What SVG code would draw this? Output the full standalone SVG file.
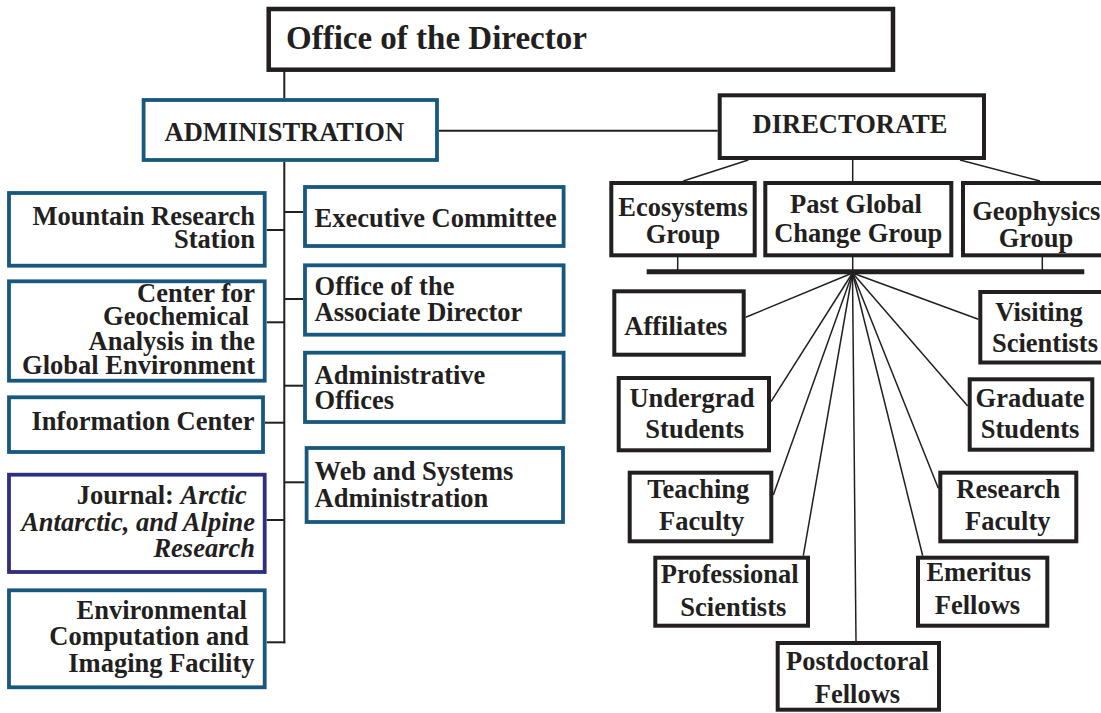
<svg xmlns="http://www.w3.org/2000/svg" width="1101" height="713" viewBox="0 0 1101 713">
<style>
.bg{fill:#ffffff}
.kb{fill:#fff;stroke:#231f20;stroke-width:4}
.bb{fill:#fff;stroke:#18587f;stroke-width:3.8}
.pb{fill:#fff;stroke:#2e2f7f;stroke-width:3.8}
.t{font-family:"Liberation Serif","Times New Roman",serif;font-weight:bold;font-size:26.5px;fill:#231f20}
.e{text-anchor:end}
.m{text-anchor:middle}
.i{font-style:italic}
.c{stroke:#231f20;stroke-width:2;fill:none}
.f{stroke:#231f20;stroke-width:1.5;fill:none}
</style>
<rect class="bg" x="0" y="0" width="1101" height="713"/>
<g id="connectors">
<line class="c" x1="284.3" y1="71" x2="284.3" y2="98"/>
<line class="c" x1="284.3" y1="162" x2="284.3" y2="643.3"/>
<line class="c" x1="266.7" y1="230" x2="284.3" y2="230"/>
<line class="c" x1="284.3" y1="212" x2="303" y2="212"/>
<line class="c" x1="266.7" y1="322.3" x2="284.3" y2="322.3"/>
<line class="c" x1="284.3" y1="299" x2="303" y2="299"/>
<line class="c" x1="284.3" y1="385.7" x2="303" y2="385.7"/>
<line class="c" x1="265" y1="422.7" x2="284.3" y2="422.7"/>
<line class="c" x1="284.3" y1="482.3" x2="304.6" y2="482.3"/>
<line class="c" x1="266.7" y1="520" x2="284.3" y2="520"/>
<line class="c" x1="266.7" y1="642.3" x2="285.3" y2="642.3"/>
<line class="c" x1="439" y1="130.7" x2="717.7" y2="130.7"/>
<line class="f" x1="748.3" y1="160" x2="683.3" y2="181"/>
<line class="f" x1="852.7" y1="160" x2="852.7" y2="181"/>
<line class="f" x1="960" y1="160" x2="1040" y2="181"/>
<line class="f" x1="677.7" y1="257" x2="677.7" y2="270"/>
<line class="f" x1="852.7" y1="257" x2="852.7" y2="270"/>
<line class="f" x1="1042.3" y1="257" x2="1042.3" y2="270"/>
<line stroke="#231f20" stroke-width="5" x1="646.7" y1="271.7" x2="1084.3" y2="271.7"/>
<line class="f" x1="852.5" y1="273" x2="745.7" y2="317.3"/>
<line class="f" x1="852.5" y1="273" x2="978.3" y2="319.3"/>
<line class="f" x1="852.5" y1="273" x2="771" y2="401.7"/>
<line class="f" x1="852.5" y1="273" x2="967.7" y2="406"/>
<line class="f" x1="852.5" y1="273" x2="773.3" y2="495"/>
<line class="f" x1="852.5" y1="273" x2="938.3" y2="488.3"/>
<line class="f" x1="852.5" y1="273" x2="803.3" y2="555.7"/>
<line class="f" x1="852.5" y1="273" x2="922.7" y2="555.7"/>
<line class="f" x1="852.5" y1="273" x2="856" y2="641"/>
</g>
<g id="office-director">
<rect class="kb" x="268.7" y="9" width="624.3" height="60.7" style="stroke-width:4.5"/>
<text class="t" x="286" y="49" style="font-size:33px">Office of the Director</text>
</g>
<g id="administration">
<rect class="bb" x="143.6" y="100" width="293.4" height="60"/>
<text class="t" x="164.6" y="141">ADMINISTRATION</text>
</g>
<g id="mountain-research">
<rect class="bb" x="9" y="193" width="255.7" height="72.7"/>
<text class="t e" x="255" y="225">Mountain Research</text>
<text class="t e" x="255" y="248">Station</text>
</g>
<g id="center-geochemical">
<rect class="bb" x="9" y="281.3" width="255.7" height="99.4"/>
<text class="t e" x="255" y="301.7">Center for</text>
<text class="t e" x="248.8" y="325">Geochemical</text>
<text class="t e" x="255" y="350">Analysis in the</text>
<text class="t e" x="255" y="374">Global Environment</text>
</g>
<g id="information-center">
<rect class="bb" x="9" y="397.3" width="254" height="54.7"/>
<text class="t e" x="254.5" y="430">Information Center</text>
</g>
<g id="journal">
<rect class="pb" x="9" y="474.7" width="255.7" height="97.3"/>
<text class="t e" x="246.8" y="504.3">Journal: <tspan class="i">Arctic</tspan></text>
<text class="t e i" x="255" y="530.7">Antarctic, and Alpine</text>
<text class="t e i" x="255" y="556.7">Research</text>
</g>
<g id="environmental-computation">
<rect class="bb" x="9" y="590.3" width="255.7" height="97"/>
<text class="t e" x="246.8" y="619.3">Environmental</text>
<text class="t e" x="248.8" y="645">Computation and</text>
<text class="t e" x="254.5" y="671.7">Imaging Facility</text>
</g>
<g id="executive-committee">
<rect class="bb" x="305" y="187" width="258.6" height="59"/>
<text class="t" x="314.6" y="226.7">Executive Committee</text>
</g>
<g id="associate-director">
<rect class="bb" x="305" y="265.3" width="258.6" height="69.4"/>
<text class="t" x="314.6" y="295">Office of the</text>
<text class="t" x="314.6" y="321">Associate Director</text>
</g>
<g id="administrative-offices">
<rect class="bb" x="305" y="352.7" width="258.6" height="69.3"/>
<text class="t" x="314.6" y="384">Administrative</text>
<text class="t" x="314.6" y="409.3">Offices</text>
</g>
<g id="web-systems">
<rect class="bb" x="306.6" y="448" width="256.4" height="74"/>
<text class="t" x="314.6" y="480">Web and Systems</text>
<text class="t" x="314.6" y="506.7">Administration</text>
</g>
<g id="directorate">
<rect class="kb" x="719.7" y="95.3" width="264.3" height="62.7"/>
<text class="t m" x="850" y="133.3">DIRECTORATE</text>
</g>
<g id="ecosystems">
<rect class="kb" x="611.3" y="183" width="143.4" height="72.3"/>
<text class="t m" x="683" y="216">Ecosystems</text>
<text class="t m" x="683" y="243.3">Group</text>
</g>
<g id="past-global-change">
<rect class="kb" x="765.3" y="183" width="186" height="72.3"/>
<text class="t m" x="856" y="213.3">Past Global</text>
<text class="t m" x="858.3" y="242.3">Change Group</text>
</g>
<g id="geophysics">
<rect class="kb" x="963" y="183" width="150" height="72.3"/>
<text class="t m" x="1036.3" y="220">Geophysics</text>
<text class="t m" x="1036" y="246.7">Group</text>
</g>
<g id="affiliates">
<rect class="kb" x="614.3" y="291.3" width="129.4" height="63.4"/>
<text class="t m" x="675.8" y="335">Affiliates</text>
</g>
<g id="visiting-scientists">
<rect class="kb" x="980.3" y="292" width="140" height="70.5"/>
<text class="t m" x="1039" y="320.7">Visiting</text>
<text class="t m" x="1045" y="351.7">Scientists</text>
</g>
<g id="undergrad-students">
<rect class="kb" x="618.7" y="378" width="150.3" height="72.3"/>
<text class="t m" x="692" y="406.7">Undergrad</text>
<text class="t m" x="694.7" y="438.3">Students</text>
</g>
<g id="graduate-students">
<rect class="kb" x="969.7" y="379.3" width="122.6" height="70.4"/>
<text class="t m" x="1030" y="406.7">Graduate</text>
<text class="t m" x="1030" y="438.3">Students</text>
</g>
<g id="teaching-faculty">
<rect class="kb" x="629.7" y="472.7" width="141.6" height="68.6"/>
<text class="t m" x="698.3" y="498.3">Teaching</text>
<text class="t m" x="701.7" y="530">Faculty</text>
</g>
<g id="research-faculty">
<rect class="kb" x="940.3" y="472.7" width="136" height="68.6"/>
<text class="t m" x="1008.3" y="497.7">Research</text>
<text class="t m" x="1007.8" y="530">Faculty</text>
</g>
<g id="professional-scientists">
<rect class="kb" x="655.3" y="557.7" width="152.7" height="68"/>
<text class="t m" x="729.7" y="583.3">Professional</text>
<text class="t m" x="733.3" y="616">Scientists</text>
</g>
<g id="emeritus-fellows">
<rect class="kb" x="918" y="557.7" width="129.3" height="68"/>
<text class="t m" x="978.7" y="580.7">Emeritus</text>
<text class="t m" x="977.5" y="614.3">Fellows</text>
</g>
<g id="postdoctoral-fellows">
<rect class="kb" x="777.7" y="643" width="161.3" height="66.7"/>
<text class="t m" x="857.5" y="670">Postdoctoral</text>
<text class="t m" x="857.5" y="703.3">Fellows</text>
</g>
</svg>
